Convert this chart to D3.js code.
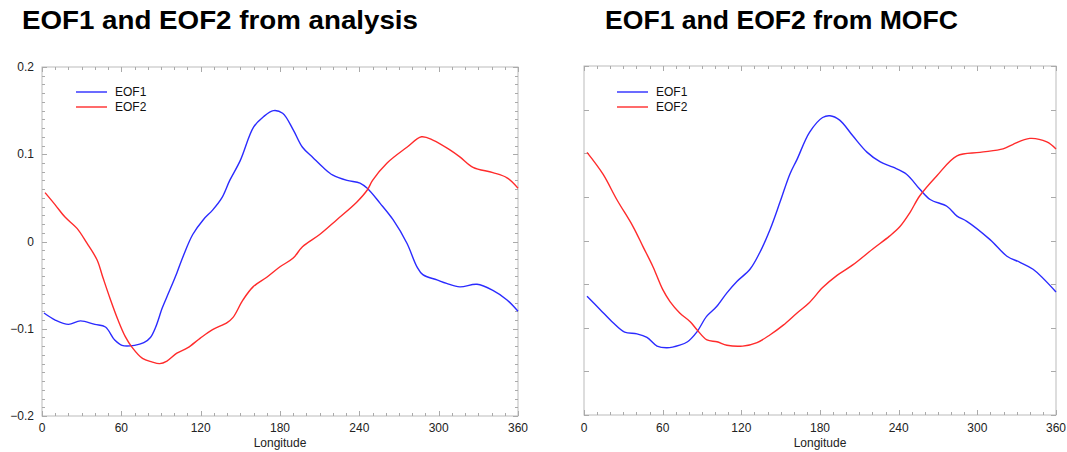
<!DOCTYPE html>
<html><head><meta charset="utf-8">
<script src="https://cdn.jsdelivr.net/npm/d3@7"></script>
<style>body{margin:0;background:#fff}svg{display:block}</style>
</head><body>
<svg id="c" width="1067" height="452"></svg>
<script>
// ---- data ----
const titles = ["EOF1 and EOF2 from analysis", "EOF1 and EOF2 from MOFC"];
const seriesNames = ["EOF1", "EOF2"];
const xTicks = [0, 60, 120, 180, 240, 300, 360];
const yTicksLeft = [-0.2, -0.1, 0, 0.1, 0.2];
const yTickLabels = ["\u22120.2", "\u22120.1", "0", "0.1", "0.2"];

const anaLon1 = [1.5,10,20,29,40,48,55,60.5,70,77,82,86,91,96,102,107,114,122,129,136,142,150,160,167.5,175,182,190,197,205,212.5,220,230.7,240.5,246,255.6,265.5,276,283.6,288,298.7,306,316,329,341,351.7,360];
const anaEOF1 = [-0.082,-0.090,-0.095,-0.091,-0.095,-0.098,-0.113,-0.119,-0.119,-0.116,-0.110,-0.098,-0.076,-0.058,-0.036,-0.016,0.008,0.025,0.036,0.050,0.070,0.093,0.131,0.143,0.150,0.147,0.128,0.108,0.096,0.085,0.076,0.070,0.067,0.061,0.044,0.025,-0.002,-0.029,-0.038,-0.044,-0.048,-0.052,-0.049,-0.056,-0.067,-0.080];
const anaLon2 = [2.3,10,17.4,26.5,34,41.6,46,51.4,57.5,63,68,76,83,89,94.5,102,110,119.5,129,140,144.5,152,159.6,170,180,190,197,210,223,238,246,250,261,276,287,296,308.5,316,326,341,351.7,360];
const anaEOF2 = [0.056,0.042,0.028,0.015,-0.002,-0.021,-0.041,-0.065,-0.090,-0.109,-0.121,-0.134,-0.138,-0.140,-0.137,-0.128,-0.122,-0.111,-0.101,-0.093,-0.087,-0.067,-0.052,-0.041,-0.029,-0.019,-0.006,0.008,0.025,0.045,0.059,0.070,0.090,0.108,0.120,0.116,0.105,0.097,0.085,0.079,0.073,0.061];

const mofcLon1 = [2.3,12.2,22,31,40.4,48,55.7,63.3,73,79,86,93.5,101,109,116.6,126.6,134,142,149.5,157,162.5,172,182,187.6,195,205,216,226,235.7,246,256,264,277,284.5,292,309.7,322.6,332.5,342.5,360];
const mofcEOF1 = [-0.064,-0.079,-0.094,-0.105,-0.107,-0.111,-0.121,-0.123,-0.120,-0.116,-0.105,-0.087,-0.076,-0.060,-0.047,-0.033,-0.014,0.013,0.044,0.076,0.093,0.124,0.141,0.143,0.138,0.120,0.101,0.090,0.084,0.076,0.059,0.047,0.039,0.028,0.022,0.001,-0.018,-0.025,-0.033,-0.059];
const mofcLon2 = [2.3,14.5,25,37.4,45,52.6,60,65.6,73,81,86,93.8,101.4,109,121,132,142,152,162.5,172,182,193,205,220,233,241,248.6,256,269,284.5,302,319.6,327,340,353,360];
const mofcEOF2 = [0.101,0.076,0.047,0.016,-0.007,-0.030,-0.056,-0.070,-0.083,-0.093,-0.102,-0.114,-0.116,-0.120,-0.121,-0.117,-0.108,-0.097,-0.083,-0.071,-0.054,-0.040,-0.028,-0.010,0.005,0.016,0.032,0.051,0.074,0.097,0.101,0.105,0.110,0.117,0.113,0.105];

const colors = ["#2b2bff", "#ff2b2b"];

const panels = [
  {title: titles[0], tx: 22, tw: 396, left: 42, right: 518, top: 67, bottom: 416, labels: true,
   lons: [anaLon1, anaLon2], vals: [anaEOF1, anaEOF2], legX: 76},
  {title: titles[1], tx: 605, tw: 353, left: 584, right: 1056, top: 66, bottom: 415, labels: false,
   lons: [mofcLon1, mofcLon2], vals: [mofcEOF1, mofcEOF2], legX: 617}
];

const svg = d3.select("#c");
const font = "'Liberation Sans', Arial, Helvetica, sans-serif";
const axisCol = "#aaaaaa";

panels.forEach(p => {
  const x = d3.scaleLinear().domain([0, 360]).range([p.left, p.right]);
  const y = d3.scaleLinear().domain([-0.2, 0.2]).range([p.bottom, p.top]);
  const g = svg.append("g");

  g.append("text").attr("x", p.tx).attr("y", 29)
    .attr("font-family", font).attr("font-weight", "bold").attr("font-size", 25)
    .attr("textLength", p.tw).attr("lengthAdjust", "spacingAndGlyphs")
    .attr("fill", "#000").text(p.title);

  // frame
  g.append("rect").attr("x", p.left).attr("y", p.top)
    .attr("width", p.right - p.left).attr("height", p.bottom - p.top)
    .attr("fill", "none").attr("stroke", "#bbbbbb").attr("stroke-width", 1);

  // x ticks (bottom & top, inward)
  const xMinor = d3.range(0, 361, 10);
  xMinor.forEach(v => {
    const major = v % 60 === 0;
    const len = major ? 5 : 3;
    const xx = Math.round(x(v)) + 0.5;
    g.append("line").attr("x1", xx).attr("x2", xx).attr("y1", p.bottom).attr("y2", p.bottom - len).attr("stroke", axisCol);
    g.append("line").attr("x1", xx).attr("x2", xx).attr("y1", p.top).attr("y2", p.top + len).attr("stroke", axisCol);
  });
  // y ticks
  const yMinor = p.labels ? d3.range(-20, 21, 1).map(d => d / 100) : d3.range(-4, 5, 1).map(d => d / 20);
  yMinor.forEach(v => {
    const major = p.labels ? Math.abs(Math.round(v * 100)) % 10 === 0 : true;
    const len = major ? 5 : 3;
    const yy = Math.round(y(v)) + 0.5;
    g.append("line").attr("x1", p.left).attr("x2", p.left + len).attr("y1", yy).attr("y2", yy).attr("stroke", axisCol);
    g.append("line").attr("x1", p.right).attr("x2", p.right - len).attr("y1", yy).attr("y2", yy).attr("stroke", axisCol);
  });

  // x labels
  xTicks.forEach(v => {
    g.append("text").attr("x", x(v)).attr("y", 432).attr("text-anchor", "middle")
      .attr("font-family", font).attr("font-size", 12).attr("fill", "#222").text(v);
  });
  g.append("text").attr("x", (p.left + p.right) / 2).attr("y", 447).attr("text-anchor", "middle")
    .attr("font-family", font).attr("font-size", 12).attr("fill", "#222").text("Longitude");

  if (p.labels) {
    yTicksLeft.forEach((v, i) => {
      g.append("text").attr("x", 34).attr("y", y(v) + 4).attr("text-anchor", "end")
        .attr("font-family", font).attr("font-size", 12).attr("fill", "#222").text(yTickLabels[i]);
    });
  }

  const line = d3.line().x(d => x(d[0])).y(d => y(d[1])).curve(d3.curveCatmullRom.alpha(0.5));
  [0, 1].forEach(k => {
    const pts = p.lons[k].map((l, i) => [l, p.vals[k][i]]);
    g.append("path").datum(pts).attr("d", line).attr("fill", "none")
      .attr("stroke", colors[k]).attr("stroke-width", 1.4);
    // legend
    const ly = 92 + k * 15;
    g.append("line").attr("x1", p.legX).attr("x2", p.legX + 31).attr("y1", ly).attr("y2", ly)
      .attr("stroke", colors[k]).attr("stroke-width", 1.4);
    g.append("text").attr("x", p.legX + 39).attr("y", ly + 4).attr("font-family", font)
      .attr("font-size", 12).attr("fill", "#111").text(seriesNames[k]);
  });
});
</script>
</body></html>
